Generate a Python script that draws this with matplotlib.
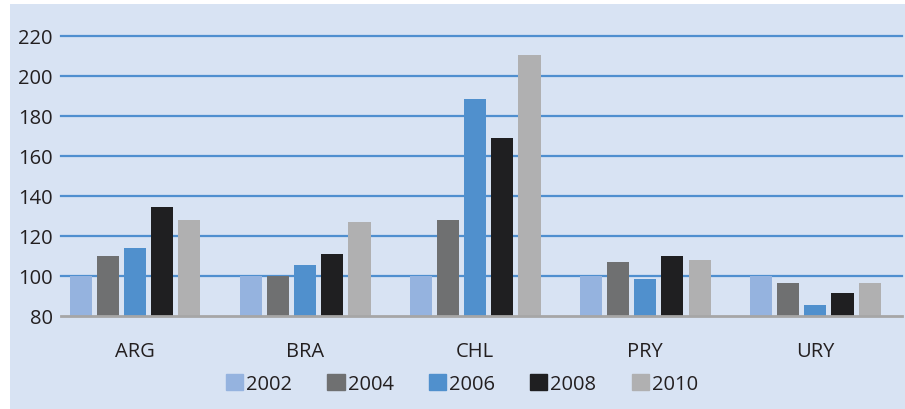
import matplotlib
matplotlib.use("Agg")
import matplotlib.pyplot as plt
import matplotlib.patches as mpatches
import numpy as np

plt.rcParams['font.family'] = ['Open Sans', 'DejaVu Sans']

countries = ["ARG", "BRA", "CHL", "PRY", "URY"]
years = ["2002", "2004", "2006", "2008", "2010"]
v2002 = [100, 100, 100, 100, 100]
v2004 = [110, 100, 128, 107, 96.5]
v2006 = [114, 105.5, 188.5, 98.5, 85.5]
v2008 = [134.5, 111, 169, 110, 91.5]
v2010 = [128, 127, 210.5, 108, 96.5]
series = [v2002, v2004, v2006, v2008, v2010]
colors = ["#95B3DF", "#6F7071", "#5090CD", "#1F1F21", "#B0B0B1"]
yticks = [80, 100, 120, 140, 160, 180, 200, 220]

W, H = 905, 410
fig = plt.figure(figsize=(W / 100, H / 100), dpi=100)
fig.patch.set_facecolor("white")
bg = "#D8E3F3"
fig.patches.append(mpatches.Rectangle((10 / W, 0), 1 - 10 / W, 1 - 5 / H,
                                      transform=fig.transFigure, facecolor=bg,
                                      edgecolor="none", zorder=-10))

ax = fig.add_axes([61 / W, 1 - 317 / H, (902 - 61) / W, (317 - 37) / H])
ax.set_facecolor(bg)
ax.patch.set_alpha(0)

x = np.arange(len(countries))
step = 0.16
width = 0.13
for i, (vals, c, yr) in enumerate(zip(series, colors, years)):
    base = 80
    ax.bar(x + (i - 2) * step, [v - base for v in vals], width=width, bottom=base,
           color=c, label=yr, zorder=3)

ax.set_ylim(80, 220)
ax.set_xlim(-0.435, 4.51)
ax.set_yticks(yticks)
ax.set_yticklabels([str(t) for t in yticks], fontsize=14.5, color="#231F20")
ax.set_xticks(x)
ax.set_xticklabels(countries, fontsize=14.5, color="#231F20")
ax.tick_params(axis="both", length=0)
ax.tick_params(axis="y", pad=6)
ax.tick_params(axis="x", pad=18)
for t in yticks[1:]:
    ax.axhline(t, color="#4F8FCF", lw=1.6, zorder=1, clip_on=False)
ax.axhline(80, color="#A6A6A6", lw=2, zorder=4, clip_on=False)
for s in ax.spines.values():
    s.set_visible(False)

handles = [mpatches.Patch(color=c) for c in colors]
leg = fig.legend(handles, years, loc="center", bbox_to_anchor=(462 / W, 1 - 385 / H),
                 ncol=5, frameon=False, fontsize=14.5, handlelength=0.85, handleheight=0.85,
                 handletextpad=0.15, columnspacing=1.75)
for t in leg.get_texts():
    t.set_color("#231F20")

fig.savefig("out.png", dpi=100, facecolor="white")
